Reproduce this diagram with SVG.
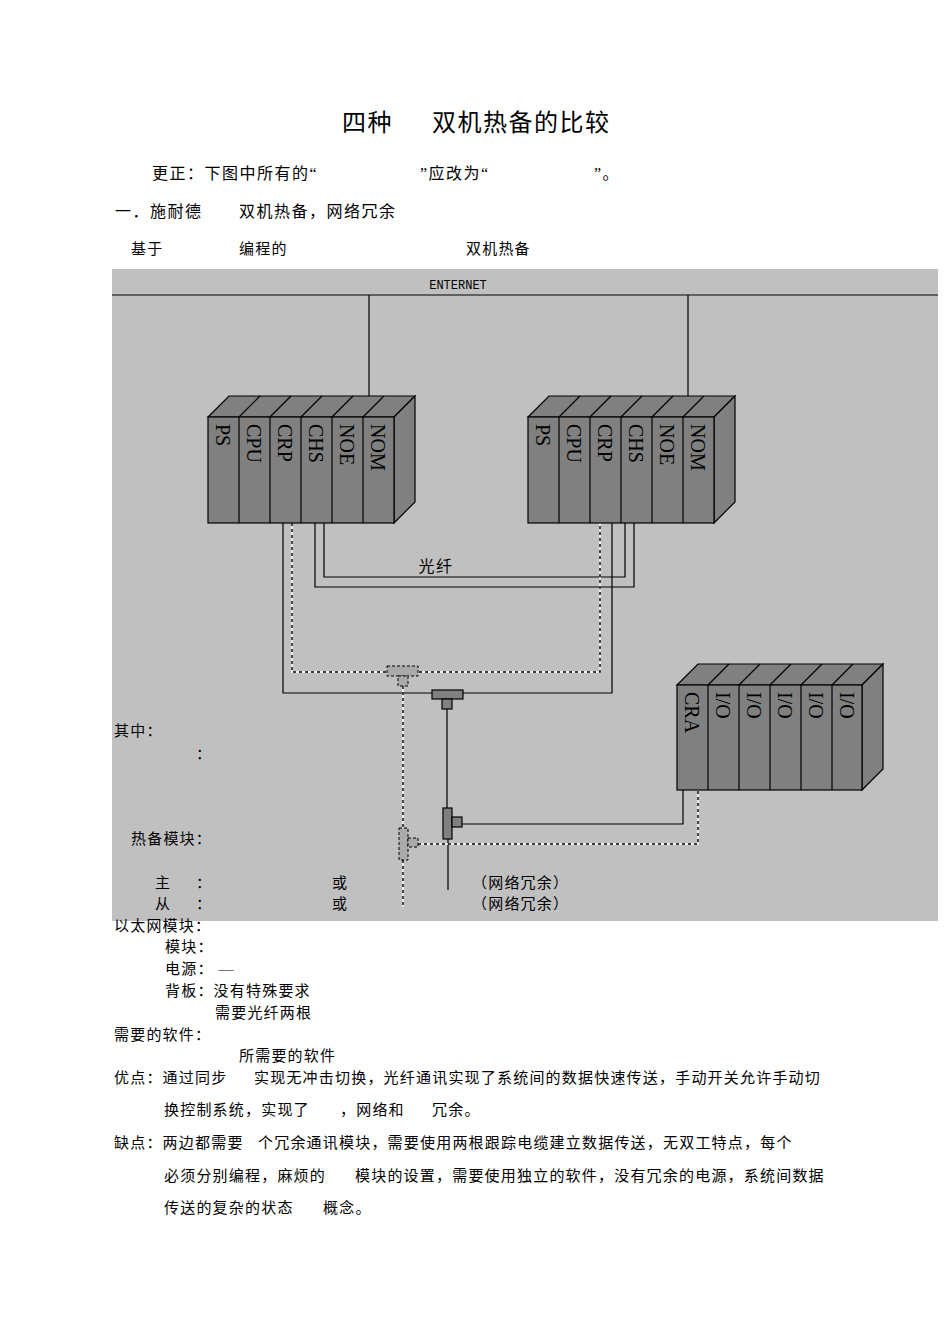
<svg xmlns="http://www.w3.org/2000/svg" width="950" height="1344" viewBox="0 0 950 1344">
<style>
.t{font-family:"Liberation Serif","Noto Sans CJK SC",serif;font-size:16px;fill:#000;letter-spacing:1.5px}
.s{font-size:15px;letter-spacing:1.2px}
.m{font-family:"Liberation Serif",serif;font-size:20px;fill:#000}
.f{fill:#808080;stroke:#000;stroke-width:1.2}
.ln{fill:none;stroke:#000;stroke-width:1.2}
.dw{fill:none;stroke:#fff;stroke-width:1.4}
.dk{fill:none;stroke:#000;stroke-width:1.4;stroke-dasharray:3 3}
.hd{fill:#aaa;stroke:#000;stroke-width:1;stroke-dasharray:3 2}
</style>
<rect width="950" height="1344" fill="#fff"/>
<rect x="112" y="269" width="826" height="652" fill="#c0c0c0"/>
<line x1="112" y1="295" x2="938" y2="295" stroke="#000" stroke-width="1.2"/>
<text x="458" y="289" font-family="Liberation Mono,monospace" font-size="12" text-anchor="middle">ENTERNET</text>
<g id="connectors">
<path class="ln" d="M369 295V396M688 295V396"/>
<path class="ln" d="M283 523V693H612V523M315 523V587H634V523M324 523V577H625V523"/>
<path class="dw" d="M292 523V672H600V523"/><path class="dk" d="M292 523V672H600V523"/>
<path class="ln" d="M447 709V808M448 839V890M462 824H683V790"/>
<path class="dw" d="M403 686V828M403 860V907M418 844H698V790"/><path class="dk" d="M403 686V828M403 860V907M418 844H698V790"/>
<text class="t" x="436" y="572" text-anchor="middle" font-size="15">光纤</text>
</g>
<g id="tee-main">
<rect class="f" x="432" y="690" width="31" height="9"/><rect class="f" x="442" y="699" width="10" height="10"/>
<rect class="f" x="443" y="808" width="9" height="31"/><rect class="f" x="452" y="817" width="10" height="10"/>
</g>
<g id="tee-standby">
<rect class="hd" x="387" y="666" width="31" height="10"/><rect class="hd" x="398" y="676" width="10" height="10"/>
<rect class="hd" x="399" y="828" width="9" height="32"/><rect class="hd" x="408" y="838" width="10" height="9"/>
</g>
<g id="rack1">
<path class="f" d="M208 417L229 396H415L394 417Z"/><path class="f" d="M394 417L415 396V502L394 523Z"/>
<rect class="f" x="208" y="417" width="186" height="106"/>
<path class="ln" d="M239 417V523M270 417V523M301 417V523M332 417V523M363 417V523M239 417L260 396M270 417L291 396M301 417L322 396M332 417L353 396M363 417L384 396"/>
<g class="m" transform="rotate(90)"><text x="424" y="-216">PS</text><text x="424" y="-247">CPU</text><text x="424" y="-278">CRP</text><text x="424" y="-309">CHS</text><text x="424" y="-340">NOE</text><text x="424" y="-371">NOM</text></g>
</g>
<g id="rack2">
<path class="f" d="M528 417L549 396H735L714 417Z"/><path class="f" d="M714 417L735 396V502L714 523Z"/>
<rect class="f" x="528" y="417" width="186" height="106"/>
<path class="ln" d="M559 417V523M590 417V523M621 417V523M652 417V523M683 417V523M559 417L580 396M590 417L611 396M621 417L642 396M652 417L673 396M683 417L704 396"/>
<g class="m" transform="rotate(90)"><text x="424" y="-536">PS</text><text x="424" y="-567">CPU</text><text x="424" y="-598">CRP</text><text x="424" y="-629">CHS</text><text x="424" y="-660">NOE</text><text x="424" y="-691">NOM</text></g>
</g>
<g id="rack3">
<path class="f" d="M677 685L698 664H883L862 685Z"/><path class="f" d="M862 685L883 664V769L862 790Z"/>
<rect class="f" x="677" y="685" width="185" height="105"/>
<path class="ln" d="M708 685V790M739 685V790M770 685V790M801 685V790M832 685V790M708 685L729 664M739 685L760 664M770 685L791 664M801 685L822 664M832 685L853 664"/>
<g class="m" transform="rotate(90)"><text x="692" y="-685">CRA</text><text x="692" y="-716">I/O</text><text x="692" y="-747">I/O</text><text x="692" y="-778">I/O</text><text x="692" y="-809">I/O</text><text x="692" y="-840">I/O</text></g>
</g>
<g id="texts" class="t">
<text x="342" y="131" font-size="24">四种</text><text x="432" y="131" font-size="24">双机热备的比较</text>
<text x="152" y="179">更正：下图中所有的“</text><text x="420" y="179">”应改为“</text><text x="594" y="179">”。</text>
<text x="115" y="217">一．施耐德</text><text x="239" y="217">双机热备，网络冗余</text>
<text class="s" x="131" y="254">基于</text><text class="s" x="239" y="254">编程的</text><text class="s" x="466" y="254">双机热备</text>
<text class="s" x="114" y="736">其中：</text><text class="s" x="196" y="759">：</text>
<text class="s" x="131" y="844">热备模块：</text>
<text class="s" x="155" y="888">主</text><text class="s" x="196" y="888">：</text><text class="s" x="332" y="888">或</text><text class="s" x="472" y="888">（网络冗余）</text>
<text class="s" x="155" y="909">从</text><text class="s" x="196" y="909">：</text><text class="s" x="332" y="909">或</text><text class="s" x="472" y="909">（网络冗余）</text>
<text class="s" x="114" y="931">以太网模块：</text>
<text class="s" x="165" y="952">模块：</text>
<text class="s" x="165" y="974">电源：  —</text>
<text class="s" x="165" y="996">背板：没有特殊要求</text>
<text class="s" x="215" y="1018">需要光纤两根</text>
<text class="s" x="114" y="1040">需要的软件：</text>
<text class="s" x="239" y="1061">所需要的软件</text>
<text class="s" x="114" y="1083">优点：通过同步</text><text class="s" x="254" y="1083">实现无冲击切换，光纤通讯实现了系统间的数据快速传送，手动开关允许手动切</text>
<text class="s" x="164" y="1115">换控制系统，实现了</text><text class="s" x="340" y="1115">，网络和</text><text class="s" x="432" y="1115">冗余。</text>
<text class="s" x="114" y="1148">缺点：两边都需要</text><text class="s" x="258" y="1148">个冗余通讯模块，需要使用两根跟踪电缆建立数据传送，无双工特点，每个</text>
<text class="s" x="164" y="1181">必须分别编程，麻烦的</text><text class="s" x="355" y="1181">模块的设置，需要使用独立的软件，没有冗余的电源，系统间数据</text>
<text class="s" x="164" y="1213">传送的复杂的状态</text><text class="s" x="323" y="1213">概念。</text>
</g>
</svg>
